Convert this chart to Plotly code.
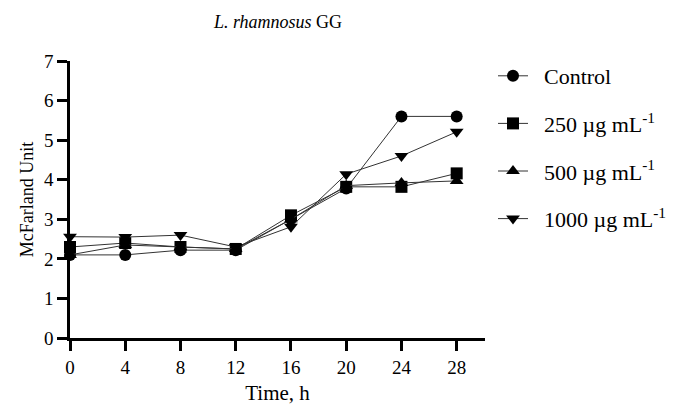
import plotly.graph_objects as go

time_h = [0, 4, 8, 12, 16, 20, 24, 28]
control = [2.1, 2.1, 2.22, 2.22, 3.0, 3.78, 5.6, 5.6]
c250 = [2.3, 2.4, 2.3, 2.25, 3.1, 3.82, 3.82, 4.16]
c500 = [2.1, 2.35, 2.3, 2.25, 3.0, 3.85, 3.92, 3.97]
c1000 = [2.56, 2.55, 2.6, 2.3, 2.81, 4.14, 4.6, 5.21]

names = ["Control", "250 µg mL<sup>-1</sup>", "500 µg mL<sup>-1</sup>", "1000 µg mL<sup>-1</sup>"]
series = [control, c250, c500, c1000]
symbols = ["circle", "square", "triangle-up", "triangle-down"]

fig = go.Figure()
for i, (nm, ys, sym) in enumerate(zip(names, series, symbols)):
    fig.add_trace(go.Scatter(
        x=time_h, y=ys, name="\u00a0\u00a0" + nm, mode="lines+markers",
        line=dict(color="#333333", width=1),
        marker=dict(symbol=sym, size=12, color="black"),
        cliponaxis=False, legendgroup=f"g{i}",
    ))

# page body has an 8px margin, so figure coords = reference coords - 8
W, H = 678, 399
L, R, T, B = 62, 201, 53, 69
pw, ph = W - L - R, H - T - B
font_fam = "Liberation Serif, Times New Roman, serif"
fig.update_layout(
    width=W, height=H,
    margin=dict(l=L, r=R, t=T, b=B, autoexpand=False),
    paper_bgcolor="white", plot_bgcolor="white",
    font=dict(family=font_fam, color="black", size=18),
    title=dict(text="<i>L. rhamnosus</i> GG", x=270 / W, xanchor="center",
               y=1 - 14 / H, yanchor="middle", font=dict(size=18)),
    showlegend=True,
    legend=dict(x=(485 - L) / pw, xref="paper", y=1 + (T - 47) / ph, yref="paper",
                xanchor="left", yanchor="top",
                font=dict(size=22), tracegroupgap=16,
                traceorder="grouped", itemwidth=30, bgcolor="rgba(0,0,0,0)"),
    xaxis=dict(range=[0, 30.05], tickvals=time_h, showline=True, linecolor="black",
               linewidth=2.5, ticks="outside", ticklen=10, tickwidth=2.5, tickcolor="black",
               showgrid=False, zeroline=False, tickfont=dict(size=19),
               title=dict(text="Time, h", font=dict(size=21), standoff=9)),
    yaxis=dict(range=[0, 7], tickvals=[0, 1, 2, 3, 4, 5, 6, 7], showline=True,
               linecolor="black", linewidth=2.5, ticks="outside", ticklen=10, tickwidth=2.5,
               tickcolor="black", showgrid=False, zeroline=False, tickfont=dict(size=19),
               title=dict(text="McFarland Unit", font=dict(size=18), standoff=6)),
)
fig.write_html("out.html")
